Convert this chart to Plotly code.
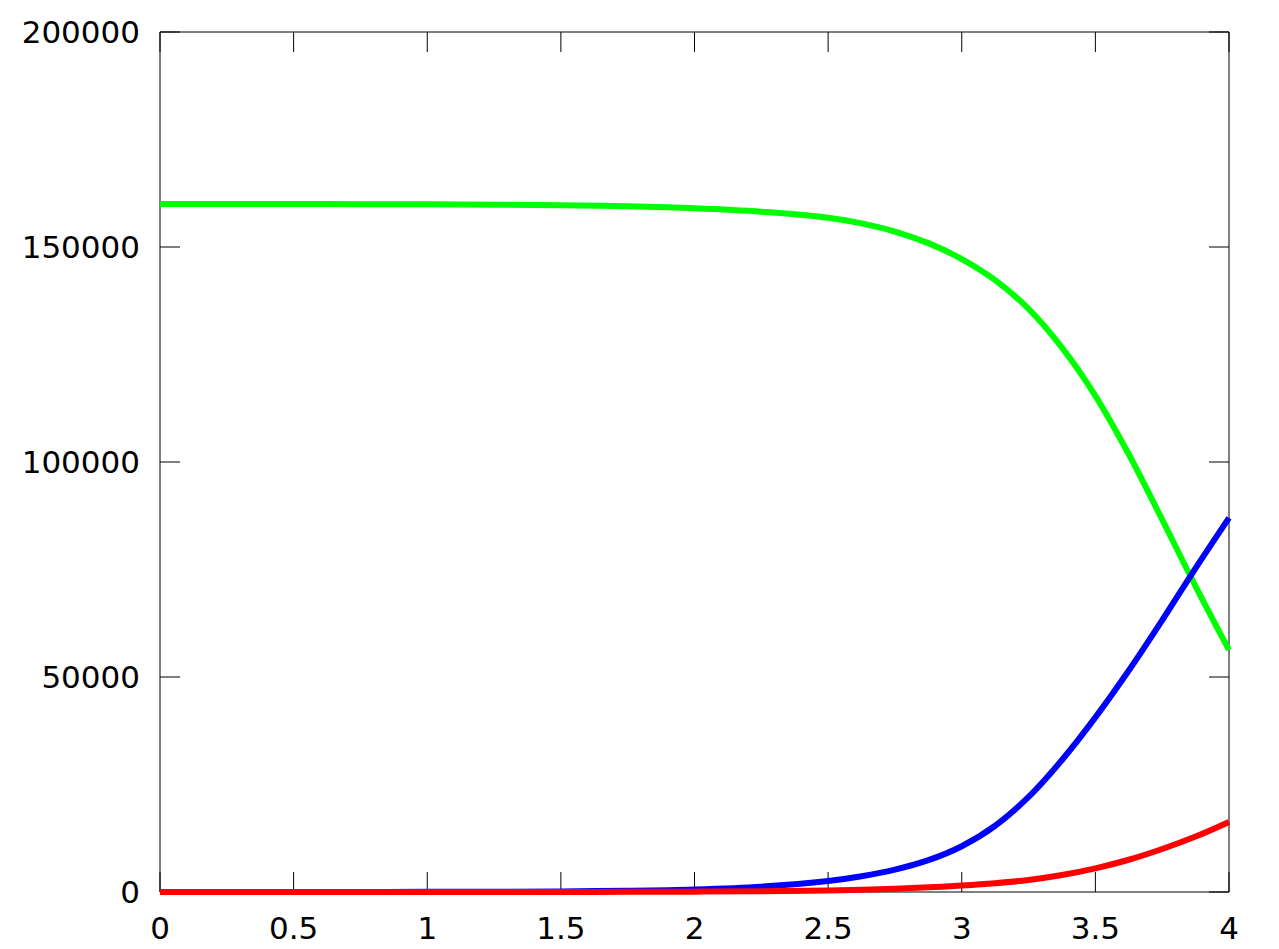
import plotly.graph_objects as go

# time steps and the three population curves
t = [0, 0.25, 0.5, 0.75, 1.0, 1.25, 1.5, 1.75, 2.0, 2.25, 2.5,
     2.625, 2.75, 2.875, 3.0, 3.125, 3.25, 3.375, 3.5, 3.625, 3.75, 3.875, 4.0]
susceptible = [160000, 160000, 159990, 159970, 159930, 159850, 159700, 159450, 159000, 158200, 156800,
               155500, 153600, 150900, 147200, 142300, 135600, 126600, 115400, 101800, 86600, 71100, 56300]
infected = [2, 4, 8, 16, 33, 68, 140, 290, 600, 1250, 2550,
            3650, 5200, 7400, 10650, 15400, 22100, 30700, 40600, 51500, 63200, 75300, 87000]
recovered = [0, 1, 1, 2, 5, 10, 20, 40, 85, 180, 370,
             540, 760, 1080, 1500, 2050, 2800, 3950, 5500, 7500, 10000, 12900, 16300]

x_ticks = [0, 0.5, 1, 1.5, 2, 2.5, 3, 3.5, 4]
y_ticks = [0, 50000, 100000, 150000, 200000]

X_MAX, Y_MAX = 4, 200000
FONT = dict(family="DejaVu Sans", size=31, color="black")

# the page body has an 8px margin, so the figure is drawn 8px in from the window edge
W, H = 1263, 933
L, R, T, B = 152, 1221, 24, 884   # plot box inside the figure
PAD = 4                            # lets thick curves spill over the frame like gnuplot
pad_x = PAD * X_MAX / (R - L)
pad_y = PAD * Y_MAX / (B - T)

fig = go.Figure()
for ys, col in [(susceptible, "#00ff00"), (infected, "#0000ff"), (recovered, "#ff0000")]:
    fig.add_scatter(x=t, y=ys, mode="lines", line=dict(color=col, width=6, shape="spline", smoothing=1.0),
                    showlegend=False, hoverinfo="skip")

# frame and inward ticks on all four sides
line_k = dict(color="black", width=1)
fig.add_shape(type="rect", x0=0, x1=X_MAX, y0=0, y1=Y_MAX, line=line_k, layer="below")
for v in x_ticks:
    fig.add_shape(type="line", x0=v, x1=v, ysizemode="pixel", yanchor=0, y0=0, y1=20, line=line_k, layer="below")
    fig.add_shape(type="line", x0=v, x1=v, ysizemode="pixel", yanchor=Y_MAX, y0=0, y1=-20, line=line_k, layer="below")
for v in y_ticks:
    fig.add_shape(type="line", y0=v, y1=v, xsizemode="pixel", xanchor=0, x0=0, x1=20, line=line_k, layer="below")
    fig.add_shape(type="line", y0=v, y1=v, xsizemode="pixel", xanchor=X_MAX, x0=0, x1=-20, line=line_k, layer="below")

axis_common = dict(showline=False, ticks="", showgrid=False, zeroline=False,
                   tickfont=FONT, automargin=False)

fig.update_layout(
    width=W, height=H,
    margin=dict(l=L - PAD, r=W - R - PAD, t=T - PAD, b=H - B - PAD),
    paper_bgcolor="white", plot_bgcolor="rgba(0,0,0,0)",
)
fig.update_xaxes(range=[-pad_x, X_MAX + pad_x], tickvals=x_ticks, ticktext=[f"{v:g}" for v in x_ticks],
                 ticklabelstandoff=11, **axis_common)
fig.update_yaxes(range=[-pad_y, Y_MAX + pad_y], tickvals=y_ticks, ticktext=[str(v) for v in y_ticks],
                 ticklabelstandoff=15, **axis_common)

fig.write_html("out.html")
